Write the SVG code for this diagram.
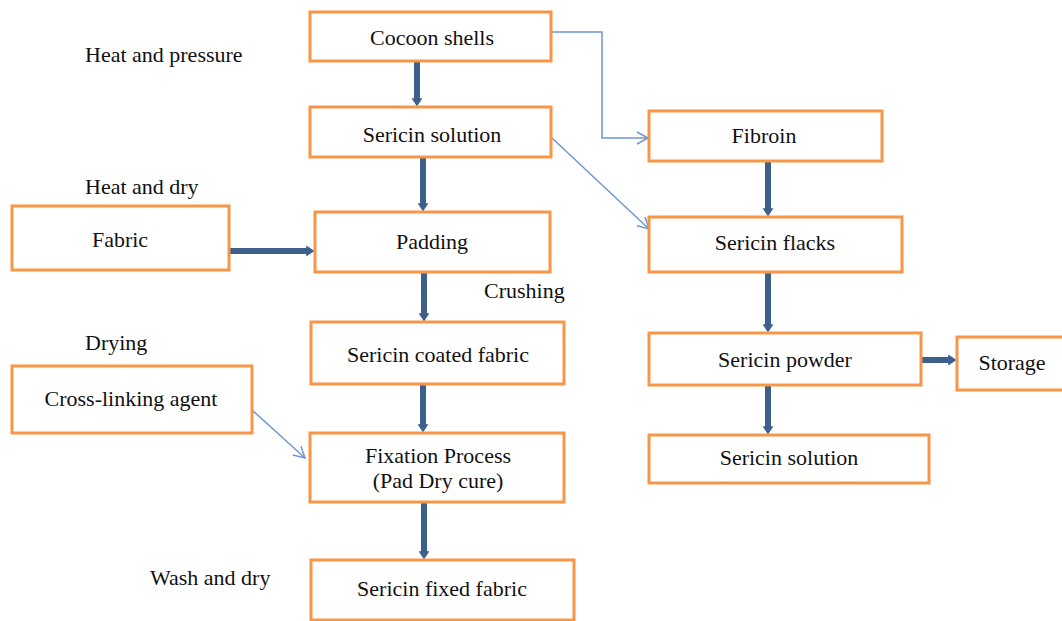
<svg xmlns="http://www.w3.org/2000/svg" width="1062" height="621" viewBox="0 0 1062 621">
<defs>
<style>
.box{fill:#fff;stroke:#F79646;stroke-width:3}
.t{font-family:"Liberation Serif",serif;font-size:22px;fill:#111;text-anchor:middle}
.l{font-family:"Liberation Serif",serif;font-size:22px;fill:#111}
.thick{stroke:#3C5F8C;stroke-width:6;fill:none}
.thin{stroke:#6F97CF;stroke-width:1.5;fill:none}
</style>
<marker id="ah" markerWidth="2" markerHeight="2" refX="0.3" refY="1" orient="auto" markerUnits="strokeWidth" viewBox="0 0 2 2">
<path d="M0,0.1 L1.4,1 L0,1.9 Z" fill="#3C5F8C"/>
</marker>
<marker id="av" markerWidth="14" markerHeight="14" refX="12" refY="7" orient="auto" markerUnits="userSpaceOnUse">
<path d="M1,1 L12,7 L1,13" fill="none" stroke="#6F97CF" stroke-width="1.5"/>
</marker>
</defs>
<rect width="1062" height="621" fill="#fff"/>
<g id="labels">
<text class="l" x="85" y="62">Heat and pressure</text>
<text class="l" x="85" y="194">Heat and dry</text>
<text class="l" x="484" y="298">Crushing</text>
<text class="l" x="85" y="350">Drying</text>
<text class="l" x="150" y="585">Wash and dry</text>
</g>
<g id="connectors">
<line class="thick" x1="417" y1="61" x2="417" y2="100" marker-end="url(#ah)"/>
<line class="thick" x1="423" y1="157" x2="423" y2="205" marker-end="url(#ah)"/>
<line class="thick" x1="229" y1="251" x2="308" y2="251" marker-end="url(#ah)"/>
<line class="thick" x1="424" y1="272" x2="424" y2="315" marker-end="url(#ah)"/>
<line class="thick" x1="423" y1="384" x2="423" y2="426" marker-end="url(#ah)"/>
<line class="thick" x1="424" y1="502" x2="424" y2="553" marker-end="url(#ah)"/>
<line class="thick" x1="768" y1="161" x2="768" y2="210" marker-end="url(#ah)"/>
<line class="thick" x1="768" y1="272" x2="768" y2="326" marker-end="url(#ah)"/>
<line class="thick" x1="768" y1="385" x2="768" y2="428" marker-end="url(#ah)"/>
<line class="thick" x1="921" y1="360" x2="950" y2="360" marker-end="url(#ah)"/>
<polyline class="thin" points="551,32 602,32 602,138 648,138" marker-end="url(#av)"/>
<line class="thin" x1="552" y1="138" x2="649" y2="229" marker-end="url(#av)"/>
<line class="thin" x1="252" y1="410" x2="305" y2="458" marker-end="url(#av)"/>
</g>
<g id="cocoon"><rect class="box" x="310" y="12" width="241" height="49"/><text class="t" x="432" y="45">Cocoon shells</text></g>
<g id="sericin-solution"><rect class="box" x="310" y="107" width="241" height="50"/><text class="t" x="432" y="142">Sericin solution</text></g>
<g id="fabric"><rect class="box" x="12" y="206" width="217" height="64"/><text class="t" x="120" y="247">Fabric</text></g>
<g id="padding"><rect class="box" x="315" y="212" width="235" height="60"/><text class="t" x="432" y="249">Padding</text></g>
<g id="coated"><rect class="box" x="311" y="322" width="253" height="62"/><text class="t" x="438" y="362">Sericin coated fabric</text></g>
<g id="crosslink"><rect class="box" x="12" y="366" width="240" height="67"/><text class="t" x="131" y="406">Cross-linking agent</text></g>
<g id="fixation"><rect class="box" x="310" y="433" width="254" height="69"/><text class="t" x="438" y="463">Fixation Process</text><text class="t" x="438" y="488">(Pad Dry cure)</text></g>
<g id="fixed"><rect class="box" x="311" y="560" width="263" height="60"/><text class="t" x="442" y="596">Sericin fixed fabric</text></g>
<g id="fibroin"><rect class="box" x="649" y="111" width="233" height="50"/><text class="t" x="764" y="143">Fibroin</text></g>
<g id="flacks"><rect class="box" x="649" y="217" width="253" height="55"/><text class="t" x="775" y="250">Sericin flacks</text></g>
<g id="powder"><rect class="box" x="649" y="333" width="272" height="52"/><text class="t" x="785" y="367">Sericin powder</text></g>
<g id="storage"><rect class="box" x="957" y="337" width="110" height="53"/><text class="t" x="1012" y="370">Storage</text></g>
<g id="sericin-solution-2"><rect class="box" x="649" y="435" width="280" height="48"/><text class="t" x="789" y="465">Sericin solution</text></g>
</svg>
